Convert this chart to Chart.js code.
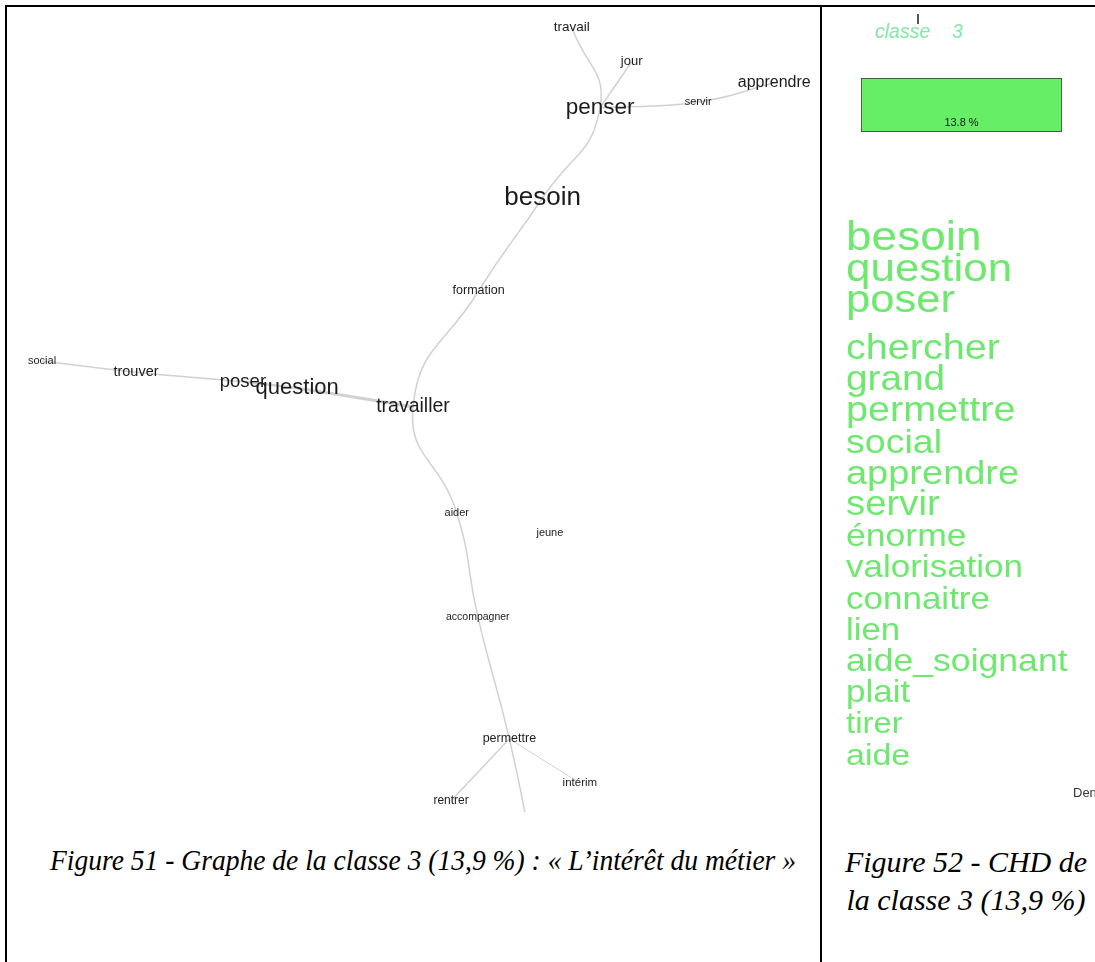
<!DOCTYPE html>
<html>
<head>
<meta charset="utf-8">
<script src="https://cdn.jsdelivr.net/npm/chart.js@4.4.0/dist/chart.umd.min.js"></script>
<style>
  body { margin: 0; background: #fff; width: 1095px; height: 962px; overflow: hidden; position: relative; }
  .rule { position: absolute; background: #000; }
  #graphCanvas { position: absolute; left: 8px; top: 8px; }
  #chdCanvas { position: absolute; left: 823px; top: 8px; }
  .cap { position: absolute; font-family: "Liberation Serif", "Times New Roman", serif; font-style: italic;
         font-size: 30px; white-space: nowrap; color: #000; }
</style>
</head>
<body>
<div class="rule" style="left:5px;top:5px;width:1090px;height:2px"></div>
<div class="rule" style="left:5px;top:5px;width:2px;height:957px"></div>
<div class="rule" style="left:820px;top:5px;width:2px;height:957px"></div>

<canvas id="graphCanvas" width="810" height="804"></canvas>
<canvas id="chdCanvas" width="272" height="804"></canvas>

<div class="cap" id="cap51" style="left:50px;top:842px;line-height:36px;transform:scaleX(0.918);transform-origin:0 0">Figure 51 - Graphe de la classe 3 (13,9 %) : « L’intérêt du métier »</div>
<div class="cap" id="cap52" style="left:822px;top:843px;width:288px;text-align:center;line-height:38px">Figure 52 - CHD de<br>la classe 3 (13,9 %)</div>

<script>
// graphe de similitude - noeuds (coordonnees du layout, 0-100)
const nodeWords = ['travail', 'jour', 'penser', 'servir', 'apprendre', 'besoin', 'formation', 'social', 'trouver',
  'poser', 'question', 'travailler', 'aider', 'jeune', 'accompagner', 'permettre', 'intérim', 'rentrer', ''];
const nodeX = [69.6, 77.0, 73.1, 85.2, 94.6, 66.0, 58.1, 4.2, 15.8, 29.0, 35.7, 50.0, 55.4, 66.9, 58.0, 61.9, 70.6, 54.7, 64.6];
const nodeY = [97.6, 93.3, 87.6, 88.3, 90.7, 76.4, 64.8, 56.1, 54.7, 53.5, 52.7, 50.4, 37.2, 34.7, 24.3, 9.1, 3.6, 1.4, -4];
const nodeFreq = [27, 26, 45, 22, 32, 52, 25, 22, 29, 37, 44, 39, 22, 22, 21, 25, 23, 24, 0];

// branches de l'arbre (chemins) et poids des aretes
const branches = [
  ['travail', 'penser', 'besoin', 'formation', 'travailler', 'aider', 'accompagner', 'permettre', ''],
  ['jour', 'penser'],
  ['penser', 'servir', 'apprendre'],
  ['social', 'trouver', 'poser', 'question', 'travailler'],
  ['permettre', 'rentrer'],
  ['permettre', 'intérim']
];
const branchWeights = [
  [3, 3, 3, 3, 3, 3, 3, 3],
  [3],
  [3, 3],
  [3, 3, 5, 6],
  [3],
  [2]
];

// CHD classe 3
const classLabel = ['classe 3'];
const classPct = [13.8];
const classWords = ['besoin', 'question', 'poser', 'chercher', 'grand', 'permettre', 'social', 'apprendre', 'servir',
  'énorme', 'valorisation', 'connaitre', 'lien', 'aide_soignant', 'plait', 'tirer', 'aide'];
const classChi2 = [65, 60, 59, 49, 47, 49, 44, 45, 46, 39, 37.5, 37.5, 37, 39, 37.5, 32.5, 35];

function idx(w) { return nodeWords.indexOf(w); }

const nodePoints = nodeWords.map((w, i) => ({ x: nodeX[i], y: nodeY[i] }));

const edgeSets = branches.map((b, k) => ({
  data: b.map(w => ({ x: nodeX[idx(w)], y: nodeY[idx(w)] })),
  showLine: true,
  tension: 0.5,
  pointRadius: 0,
  borderColor: 'rgba(190,190,190,0.7)',
  borderWidth: 1.5,
  segment: {
    borderWidth: ctx => branchWeights[k][ctx.p0DataIndex] * 0.5
  }
}));

const wordLabels = {
  id: 'wordLabels',
  afterDatasetsDraw(chart) {
    const ctx = chart.ctx;
    const meta = chart.getDatasetMeta(0);
    ctx.save();
    ctx.fillStyle = '#1c1c1c';
    ctx.textAlign = 'center';
    ctx.textBaseline = 'middle';
    meta.data.forEach((pt, i) => {
      if (!nodeWords[i]) return;
      ctx.font = (nodeFreq[i] / 2) + 'px "Liberation Sans", Arial, sans-serif';
      ctx.fillText(nodeWords[i], pt.x, pt.y);
    });
    ctx.restore();
  }
};

new Chart(document.getElementById('graphCanvas'), {
  type: 'scatter',
  data: {
    datasets: [{ data: nodePoints, pointRadius: 0, pointHoverRadius: 0 }].concat(edgeSets)
  },
  options: {
    responsive: false,
    animation: false,
    events: [],
    layout: { padding: 0 },
    plugins: { legend: { display: false }, tooltip: { enabled: false } },
    scales: {
      x: { min: 0, max: 100, display: false },
      y: { min: 0, max: 100, display: false }
    }
  },
  plugins: [wordLabels]
});

const chdText = {
  id: 'chdText',
  afterDatasetsDraw(chart) {
    const ctx = chart.ctx;
    const bar = chart.getDatasetMeta(0).data[0];
    const area = chart.chartArea;
    ctx.save();
    // tige du dendrogramme
    ctx.strokeStyle = '#555';
    ctx.lineWidth = 2;
    ctx.beginPath();
    ctx.moveTo(95, 6);
    ctx.lineTo(95, 16);
    ctx.stroke();
    // titre
    const parts = classLabel[0].split(' ');
    ctx.fillStyle = '#84e8a4';
    ctx.font = 'italic 19.5px "Liberation Sans", Arial, sans-serif';
    ctx.textBaseline = 'middle';
    ctx.fillText(parts[0], 52, 25);
    ctx.fillText(parts[1], 129, 25);
    // pourcentage
    ctx.fillStyle = '#1a1a1a';
    ctx.font = '11px "Liberation Sans", Arial, sans-serif';
    ctx.textAlign = 'center';
    ctx.fillText(classPct[0].toFixed(1) + ' %', (area.left + area.right) / 2, bar.y + 18);
    // liste des formes
    ctx.textAlign = 'left';
    ctx.textBaseline = 'alphabetic';
    ctx.fillStyle = '#6ee86e';
    let y = 242;
    classWords.forEach((w, i) => {
      if (i === 3) y += 16;
      const size = (20 + classChi2[i] * 0.4) / 1.12;
      ctx.save();
      ctx.translate(23, y);
      ctx.scale(1.12, 1);
      ctx.font = size + 'px "Liberation Sans", Arial, sans-serif';
      ctx.fillText(w, 0, 0);
      ctx.restore();
      y += i < 3 ? 31 : 31.2;
    });
    ctx.fillStyle = '#333';
    ctx.font = '13px "Liberation Sans", Arial, sans-serif';
    ctx.textBaseline = 'middle';
    ctx.fillText('Dendrogramme', 250, 785);
    ctx.restore();
  }
};

new Chart(document.getElementById('chdCanvas'), {
  type: 'bar',
  data: {
    labels: classLabel,
    datasets: [{
      data: classPct,
      backgroundColor: '#66ee66',
      borderColor: '#333',
      borderWidth: 1,
      borderSkipped: false,
      barPercentage: 1,
      categoryPercentage: 1
    }]
  },
  options: {
    indexAxis: 'y',
    responsive: false,
    animation: false,
    events: [],
    layout: { padding: { left: 38, right: 33, top: 70, bottom: 680 } },
    plugins: { legend: { display: false }, tooltip: { enabled: false } },
    scales: {
      x: { min: 0, max: classPct[0], display: false },
      y: { display: false }
    }
  },
  plugins: [chdText]
});
</script>
</body>
</html>
